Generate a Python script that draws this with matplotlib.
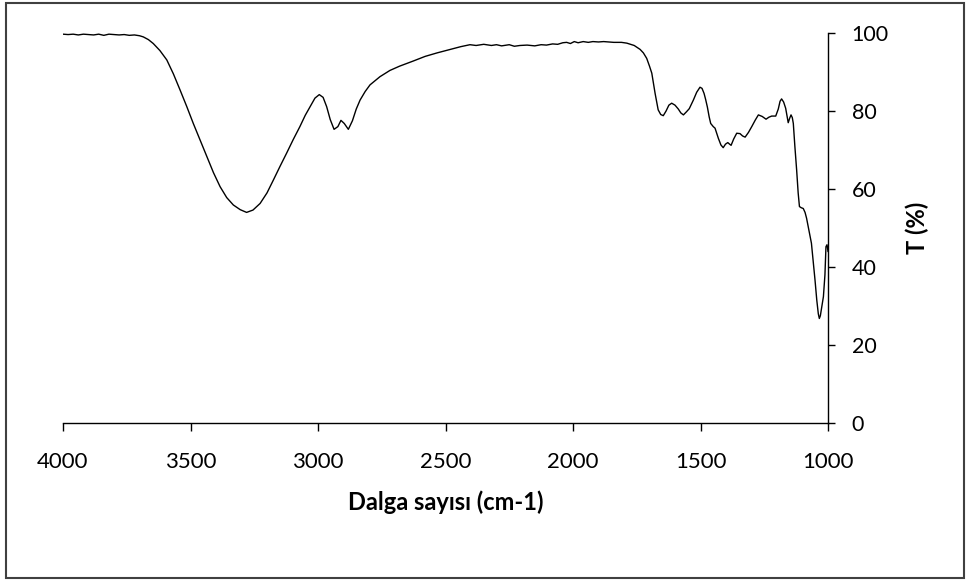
import matplotlib
matplotlib.use("Agg")
import matplotlib.pyplot as plt
from matplotlib.patches import Rectangle

plt.rcParams['font.family'] = ['Lato', 'DejaVu Sans']

# Wavenumber (cm-1) and transmittance (%)
wavenumber = [4000, 3980, 3960, 3940, 3920, 3900, 3880, 3860, 3840, 3820, 3800, 3780,
              3760, 3740, 3720, 3700, 3685, 3665, 3646, 3620, 3593, 3567, 3541, 3515,
              3489, 3462, 3436, 3410, 3384, 3358, 3332, 3305, 3280, 3255, 3227, 3200,
              3175, 3149, 3123, 3097, 3071, 3050, 3031, 3012, 2995, 2980, 2966, 2952,
              2937, 2922, 2910, 2897, 2881, 2865, 2850, 2835, 2815, 2796, 2757, 2718,
              2680, 2627, 2580, 2533, 2480, 2440, 2404, 2380, 2350, 2320, 2300, 2280,
              2250, 2230, 2208, 2180, 2150, 2125, 2104, 2080, 2060, 2040, 2025, 2010,
              1995, 1980, 1960, 1940, 1922, 1900, 1880, 1860, 1840, 1810, 1789, 1760,
              1737, 1724, 1711, 1700, 1691, 1683, 1678, 1666, 1656, 1646, 1635, 1624,
              1613, 1600, 1587, 1577, 1567, 1555, 1544, 1528, 1515, 1502, 1494, 1486,
              1480, 1473, 1466, 1460, 1450, 1443, 1430, 1420, 1411, 1402, 1393, 1386,
              1380, 1370, 1358, 1345, 1335, 1325, 1312, 1299, 1285, 1273, 1258, 1243,
              1232, 1221, 1205, 1195, 1188, 1182, 1174, 1166, 1160, 1156, 1150, 1145,
              1140, 1136, 1130, 1123, 1117, 1112, 1105, 1097, 1090, 1084, 1075, 1065,
              1058, 1051, 1044, 1038, 1034, 1030, 1024, 1018, 1012, 1008, 1004, 1002,
              1000]
transmittance = [99.7, 99.6, 99.7, 99.5, 99.7, 99.6, 99.5, 99.7, 99.4, 99.7, 99.6, 99.5,
                 99.6, 99.4, 99.5, 99.3, 99.0, 98.3, 97.3, 95.5, 93.1, 89.5, 85.4, 81.2,
                 76.8, 72.5, 68.3, 64.2, 60.6, 57.8, 55.9, 54.7, 54.0, 54.6, 56.3, 59.0,
                 62.3, 65.8, 69.2, 72.7, 76.0, 78.9, 81.1, 83.3, 84.2, 83.5, 81.1, 77.8,
                 75.3, 76.0, 77.6, 76.8, 75.3, 77.5, 80.5, 82.8, 85.0, 86.7, 88.8, 90.4,
                 91.5, 92.8, 94.0, 94.9, 95.8, 96.5, 97.0, 96.8, 97.1, 96.8, 97.0, 96.7,
                 97.0, 96.6, 96.8, 96.9, 96.7, 97.0, 96.9, 97.2, 97.1, 97.5, 97.6, 97.3,
                 97.8, 97.5, 97.8, 97.6, 97.8, 97.7, 97.8, 97.7, 97.6, 97.6, 97.4, 96.8,
                 95.8, 94.9, 93.5, 91.5, 89.7, 86.5, 84.5, 80.3, 79.1, 78.8, 80.0, 81.5,
                 82.0, 81.5, 80.5, 79.5, 79.0, 79.8, 80.6, 82.8, 84.8, 86.1, 85.8, 84.5,
                 83.0, 81.0, 78.5, 76.8, 76.0, 75.6, 73.0, 71.3, 70.6, 71.5, 71.9, 71.5,
                 71.2, 72.8, 74.3, 74.2, 73.6, 73.3, 74.5, 76.0, 77.7, 79.0, 78.6, 77.9,
                 78.4, 78.7, 78.7, 80.5, 82.5, 83.1, 82.3, 80.7, 78.5, 77.0, 78.2, 79.0,
                 78.3, 76.8, 71.0, 64.9, 59.0, 55.5, 55.2, 55.0, 54.0, 52.5, 49.5, 46.1,
                 41.5, 36.7, 31.5, 28.0, 26.8, 27.5, 30.0, 32.4, 38.0, 45.2, 45.7, 45.0,
                 44.0]

x_ticks = [4000, 3500, 3000, 2500, 2000, 1500, 1000]
y_ticks = [0, 20, 40, 60, 80, 100]
x_label = "Dalga sayısı (cm-1)"
y_label = "T (%)"

W, H = 966, 580
fig = plt.figure(figsize=(W / 100, H / 100), dpi=100)
ax = fig.add_axes([63 / W, 1 - 423 / H, (828 - 63) / W, (423 - 33) / H])

ax.plot(wavenumber, transmittance, color='black', linewidth=1.0)

ax.set_xlim(4000, 1000)
ax.set_ylim(0, 100)
ax.set_xticks(x_ticks)
ax.set_yticks(y_ticks)
ax.set_xticklabels([str(t) for t in x_ticks])
ax.set_yticklabels([str(t) for t in y_ticks])

ax.yaxis.tick_right()
ax.yaxis.set_label_position('right')
for s in ['left', 'top']:
    ax.spines[s].set_visible(False)
for s in ['right', 'bottom']:
    ax.spines[s].set_color('black')
    ax.spines[s].set_linewidth(1.0)

ax.tick_params(axis='x', direction='out', length=6, width=1.0, pad=15,
               labelsize=16, colors='black')
ax.tick_params(axis='y', direction='out', length=5, width=1.0, pad=12,
               labelsize=15.5, colors='black')

ax.set_xlabel(x_label, fontsize=17, fontweight='bold', labelpad=13)
ax.set_ylabel(y_label, fontsize=17, fontweight='bold', labelpad=12)

# outer chart border
fig.patches.append(Rectangle((6 / W, 1 - 578 / H), (964 - 6) / W, (578 - 3) / H,
                             transform=fig.transFigure, fill=False,
                             edgecolor='#404040', linewidth=1.5))

fig.savefig('out.png', dpi=100, facecolor='white')
